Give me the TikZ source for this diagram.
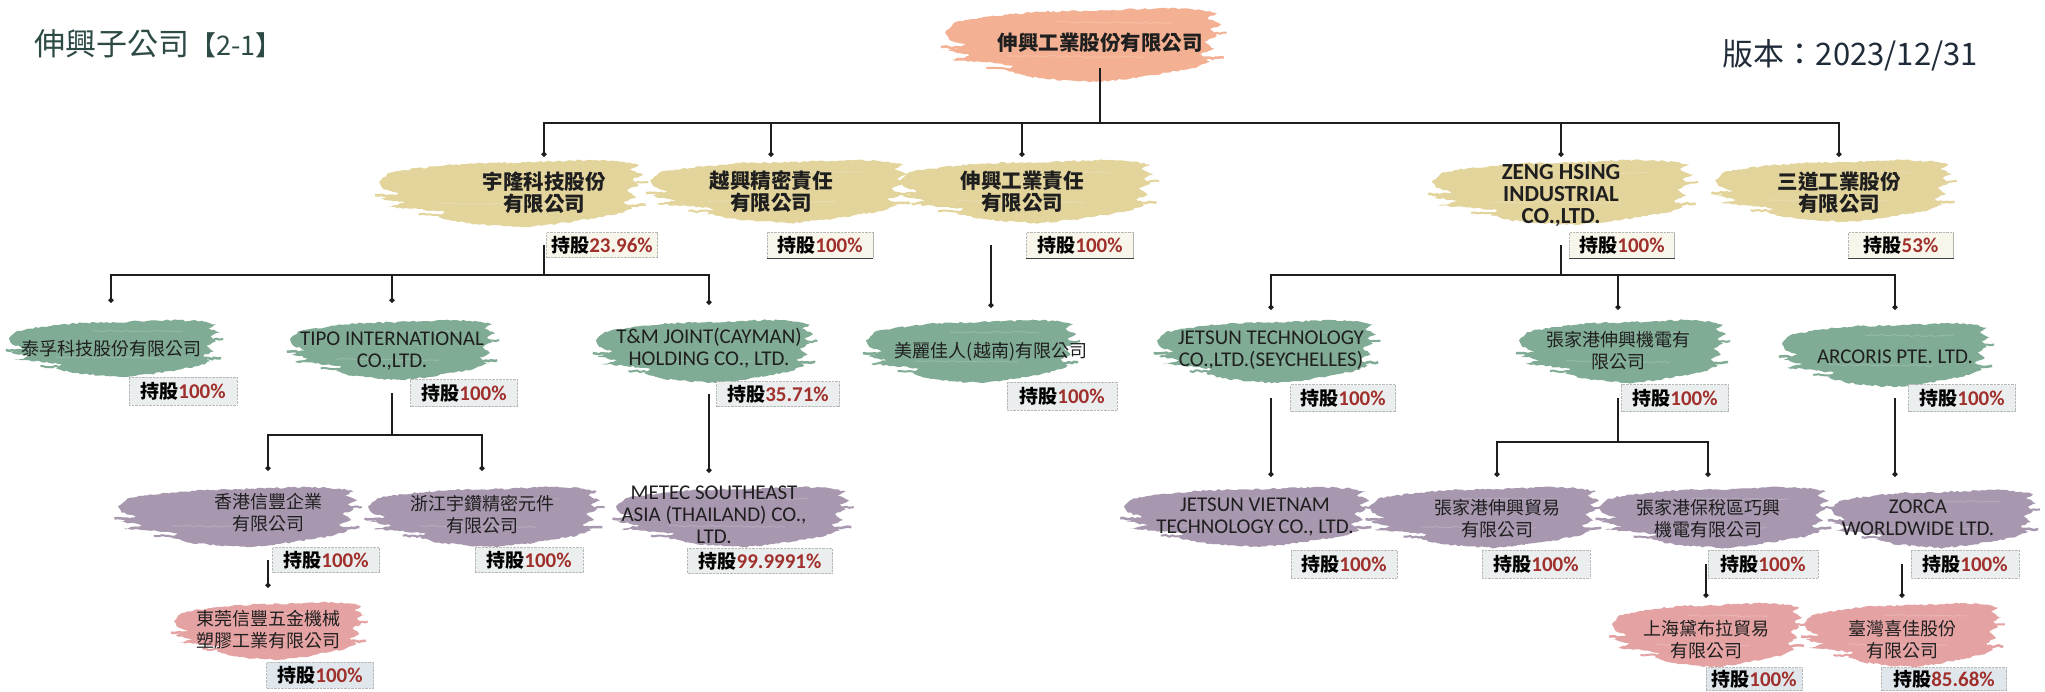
\documentclass[tikz,border=0pt]{standalone}
\usepackage{fontspec}
\setmainfont{Carlito}
\newfontfamily\cjk{Noto Sans CJK TC}
\usetikzlibrary{arrows.meta,decorations.pathmorphing,calc}
\definecolor{rootc}{HTML}{F4B092}
\definecolor{yelc}{HTML}{E3D49C}
\definecolor{grnc}{HTML}{80AB95}
\definecolor{purc}{HTML}{A797AF}
\definecolor{pnkc}{HTML}{E5A2A3}
\definecolor{pctred}{HTML}{A0302C}
\definecolor{titlec}{HTML}{2D4A47}
\definecolor{verc}{HTML}{1F2B38}
\definecolor{boxbeige}{HTML}{F8F5EA}
\definecolor{boxgray}{HTML}{EBEEEF}
\definecolor{boxblue}{HTML}{DFE7EC}
\definecolor{linec}{HTML}{1E1E1E}
\newcommand\pct[1]{{\cjk 持股}{\color{pctred}\fontsize{21}{21}\selectfont #1\%}}
\newcommand\brush[5]{%
 \pgfmathsetmacro\bcx{(#1+#3)/2}%
 \pgfmathsetmacro\bcy{(#2+#4)/2}%
 \pgfmathsetmacro\bw{(#3-#1)/2}%
 \pgfmathsetmacro\bh{(#4-#2)/2}%
 \begin{scope}[shift={(\bcx,\bcy)}, x=\bw pt, y=-\bh pt]
  \fill[#5, brushedge] (-1.00,-0.35) -- (-0.92,-0.62) -- (-0.80,-0.70) -- (-0.55,-0.82) -- (-0.30,-0.90)
    -- (0.00,-0.92) -- (0.30,-0.96) -- (0.60,-1.00) -- (0.85,-0.95) -- (0.97,-0.85) -- (0.90,-0.72)
    -- (1.00,-0.55) -- (0.92,-0.42) -- (0.97,-0.25) -- (0.88,-0.10) -- (0.95,0.10) -- (0.85,0.25)
    -- (0.92,0.45) -- (0.80,0.62) -- (0.60,0.75) -- (0.35,0.90) -- (0.10,1.00) -- (-0.15,0.95)
    -- (-0.40,0.85) -- (-0.55,0.70) -- (-0.50,0.55) -- (-0.75,0.45) -- (-0.95,0.40) -- (-0.80,0.28)
    -- (-0.98,0.15) -- (-0.85,0.00) -- (-0.97,-0.15) -- cycle;
  \draw[#5, line width=2.5pt, brushedge] (-1.03,0.05) -- (-0.80,0.08);
  \draw[#5, line width=2pt, brushedge] (0.80,-0.30) -- (1.04,-0.33);
  \draw[#5, line width=2.5pt, brushedge] (0.70,0.38) -- (1.02,0.34);
  \draw[#5, line width=2pt, brushedge] (-0.70,0.62) -- (-0.35,0.66);
  \draw[white, opacity=0.18, line width=1pt, brushedge] (-0.55,0.30) -- (0.45,0.33);
  \draw[white, opacity=0.18, line width=1pt, brushedge] (-0.20,-0.62) -- (0.65,-0.60);
 \end{scope}}
\tikzset{
 brushedge/.style={decorate, decoration={random steps, segment length=3pt, amplitude=0.9pt}},
 co/.style={inner sep=0pt, align=center, text=black!88},
 cjkY/.style={co, font=\fontsize{20.5}{22}\cjk\bfseries},
 latY/.style={co, font=\fontsize{23}{22}\selectfont\bfseries},
 cjkG/.style={co, font=\fontsize{18}{22}\cjk},
 latG/.style={co, font=\fontsize{21}{22}\selectfont},
 pbox/.style={draw=black!28, densely dotted, fill=boxgray, inner sep=0pt, minimum height=26pt,
   minimum width=107pt, font=\fontsize{19}{20}\selectfont\bfseries},
 pboxY/.style={pbox, fill=boxbeige},
 pboxB/.style={pbox, fill=boxblue},
 shade line/.style={line width=1.4pt, black!75},
 link/.style={draw=linec, line width=1.7pt},
 linkdot/.style={link, -{Circle[length=5pt]}},
}
\begin{document}
\begin{tikzpicture}[x=1pt, y=-1pt]
\pgfmathsetseed{7}
\useasboundingbox (0,0) rectangle (2045,691);
\fill[white] (0,0) rectangle (2045,691);

% header
\node[anchor=west, text=titlec, inner sep=0pt] (title) at (34,44)
  {\fontsize{31}{31}\cjk 伸興子公司\fontsize{27}{27}\selectfont【2-1】};
\node[anchor=east, text=verc, inner sep=0pt] (ver) at (1978,55)
  {\fontsize{31}{31}\cjk 版本：2023/12/31};

% brushes
\brush{945}{8}{1221}{82}{rootc}
\brush{379}{160}{643}{227}{yelc}
\brush{650}{160}{907}{223}{yelc}
\brush{900}{160}{1154}{223}{yelc}
\brush{1432}{160}{1693}{225}{yelc}
\brush{1715}{160}{1952}{222}{yelc}
\brush{9}{320}{219}{377}{grnc}
\brush{290}{320}{495}{380}{grnc}
\brush{596}{320}{813}{383}{grnc}
\brush{866}{320}{1076}{383}{grnc}
\brush{1157}{320}{1376}{383}{grnc}
\brush{1519}{320}{1726}{383}{grnc}
\brush{1782}{323}{1990}{387}{grnc}
\brush{118}{487}{357}{547}{purc}
\brush{368}{487}{600}{547}{purc}
\brush{616}{487}{849}{547}{purc}
\brush{1124}{487}{1369}{547}{purc}
\brush{1369}{487}{1599}{548}{purc}
\brush{1599}{487}{1829}{548}{purc}
\brush{1831}{490}{2036}{548}{purc}
\brush{174}{602}{364}{660}{pnkc}
\brush{1612}{603}{1802}{667}{pnkc}
\brush{1804}{603}{2001}{667}{pnkc}

% company nodes
\node[cjkY, minimum height=50pt] (root) at (1100,43) {伸興工業股份有限公司};
\node[cjkY, minimum height=72pt] (yulong) at (544,193) {宇隆科技股份\\有限公司};
\node[cjkY, minimum height=70pt] (yuexing) at (771,192) {越興精密責任\\有限公司};
\node[cjkY, minimum height=70pt] (shenxing) at (1022,192) {伸興工業責任\\有限公司};
\node[latY, minimum height=78pt] (zeng) at (1561,196) {ZENG HSING\\INDUSTRIAL\\CO.,LTD.};
\node[cjkY, minimum height=72pt] (sandao) at (1839,193) {三道工業股份\\有限公司};

\node[cjkG, minimum height=92pt] (taifu) at (111,349) {泰孚科技股份有限公司};
\node[latG, minimum height=96pt] (tipo) at (392,351) {TIPO INTERNATIONAL\\CO.,LTD.};
\node[latG, minimum height=86pt] (tm) at (709,348) {T\&M JOINT(CAYMAN)\\HOLDING CO., LTD.};
\node[cjkG, minimum height=88pt] (meili) at (991,352) {美麗佳人(越南)有限公司};
\node[latG, minimum height=80pt] (jetsun) at (1271,350) {JETSUN TECHNOLOGY\\CO.,LTD.(SEYCHELLES)};
\node[cjkG, minimum height=82pt] (zjg) at (1618,351) {張家港伸興機電有\\限公司};
\node[latG, minimum height=94pt] (arcoris) at (1895,357) {ARCORIS PTE. LTD.};

\node[cjkG, minimum height=84pt] (hk) at (268,513) {香港信豐企業\\有限公司};
\node[cjkG, minimum height=88pt] (zj) at (482,515) {浙江宇鑽精密元件\\有限公司};
\node[latG, minimum height=84pt] (metec) at (714,515) {METEC SOUTHEAST\\ASIA (THAILAND) CO.,\\LTD.};
\node[latG, minimum height=80pt] (jv) at (1255,517) {JETSUN VIETNAM\\TECHNOLOGY CO., LTD.};
\node[cjkG, minimum height=84pt] (zjgmy) at (1497,519) {張家港伸興貿易\\有限公司};
\node[cjkG, minimum height=84pt] (qx) at (1708,519) {張家港保稅區巧興\\機電有限公司};
\node[latG, minimum height=82pt] (zorca) at (1918,518) {ZORCA\\WORLDWIDE LTD.};

\node[cjkG, minimum height=84pt] (dg) at (268,630) {東莞信豐五金機械\\塑膠工業有限公司};
\node[cjkG, minimum height=84pt] (sh) at (1706,640) {上海黛布拉貿易\\有限公司};
\node[cjkG, minimum height=84pt] (tw) at (1902,640) {臺灣喜佳股份\\有限公司};

% share boxes
\node[pboxY, minimum width=111pt, minimum height=25pt] (yulong-p) at (602,245) {\pct{23.96}};
\node[pboxY, minimum width=106pt] (yuexing-p) at (820,245) {\pct{100}};
\node[pboxY] (shenxing-p) at (1080,245) {\pct{100}};
\node[pboxY, minimum width=105pt] (zeng-p) at (1622,245) {\pct{100}};
\node[pboxY, minimum width=105pt] (sandao-p) at (1901,245) {\pct{53}};
\foreach \b in {yuexing-p,shenxing-p,zeng-p,sandao-p}{
  \draw[shade line] (\b.south west) -- (\b.south east);
  \draw[black!30, line width=1pt] (\b.north east) -- (\b.south east);
}

\node[pbox, minimum width=108pt, minimum height=28pt] (taifu-p) at (183,391) {\pct{100}};
\node[pbox, minimum height=27pt] (tipo-p) at (464,393) {\pct{100}};
\node[pbox, minimum width=123pt, minimum height=25pt] (tm-p) at (778,394) {\pct{35.71}};
\node[pbox, minimum width=110pt, minimum height=28pt] (meili-p) at (1062,396) {\pct{100}};
\node[pbox, minimum width=105pt, minimum height=27pt] (jetsun-p) at (1343,398) {\pct{100}};
\node[pbox, minimum height=27pt] (zjg-p) at (1675,398) {\pct{100}};
\node[pbox, minimum height=27pt] (arcoris-p) at (1962,398) {\pct{100}};

\node[pbox, minimum height=25pt] (hk-p) at (326,560) {\pct{100}};
\node[pbox, minimum width=108pt, minimum height=25pt] (zj-p) at (529,560) {\pct{100}};
\node[pbox, minimum width=145pt, minimum height=25pt] (metec-p) at (760,561) {\pct{99.9991}};
\node[pbox, minimum width=106pt, minimum height=28pt] (jv-p) at (1344,564) {\pct{100}};
\node[pbox, minimum width=108pt, minimum height=28pt] (zjgmy-p) at (1536,564) {\pct{100}};
\node[pbox, minimum width=110pt, minimum height=28pt] (qx-p) at (1763,564) {\pct{100}};
\node[pbox, minimum width=108pt, minimum height=28pt] (zorca-p) at (1965,564) {\pct{100}};

\node[pboxB, minimum height=26pt] (dg-p) at (320,675) {\pct{100}};
\node[pboxB, minimum width=96pt, minimum height=23pt] (sh-p) at (1754,679) {\pct{100}};
\node[pboxB, minimum width=125pt, minimum height=23pt] (tw-p) at (1944,679) {\pct{85.68}};

% connectors
\coordinate (b0) at (1100,123);
\draw[link] (root.south) -- (b0);
\foreach \c in {yulong,yuexing,shenxing,zeng,sandao}
  \draw[linkdot] (b0) -| (\c.north);

\coordinate (b1) at (544,275);
\draw[link] (yulong.south |- yulong-p.center) -- (yulong.south |- b1);
\foreach \c in {taifu,tipo,tm}
  \draw[linkdot] (yulong.south |- b1) -| (\c.north);

\draw[linkdot] (meili.north |- shenxing-p.center) -- (meili.north);

\coordinate (b2) at (1561,275);
\draw[link] (zeng.south |- zeng-p.center) -- (zeng.south |- b2);
\foreach \c in {jetsun,zjg,arcoris}
  \draw[linkdot] (zeng.south |- b2) -| (\c.north);

\coordinate (b3) at (392,435);
\draw[link] (tipo.south |- tipo-p.center) -- (tipo.south |- b3);
\foreach \c in {hk,zj}
  \draw[linkdot] (tipo.south |- b3) -| (\c.north);

\draw[linkdot] (tm.south |- tm-p.center) -- (tm.south |- metec.north);
\draw[linkdot] (jetsun.south |- jetsun-p.center) -- (jetsun.south |- jv.north);

\coordinate (b4) at (1618,442);
\draw[link] (zjg.south |- zjg-p.center) -- (zjg.south |- b4);
\foreach \c in {zjgmy,qx}
  \draw[linkdot] (zjg.south |- b4) -| (\c.north);

\draw[linkdot] (arcoris.south |- arcoris-p.center) -- (arcoris.south |- zorca.north);
\draw[linkdot] (dg.north |- hk-p.center) -- (dg.north);
\draw[linkdot] (sh.north |- qx-p.center) -- (sh.north);
\draw[linkdot] (tw.north |- zorca-p.center) -- (tw.north);
\end{tikzpicture}
\end{document}
